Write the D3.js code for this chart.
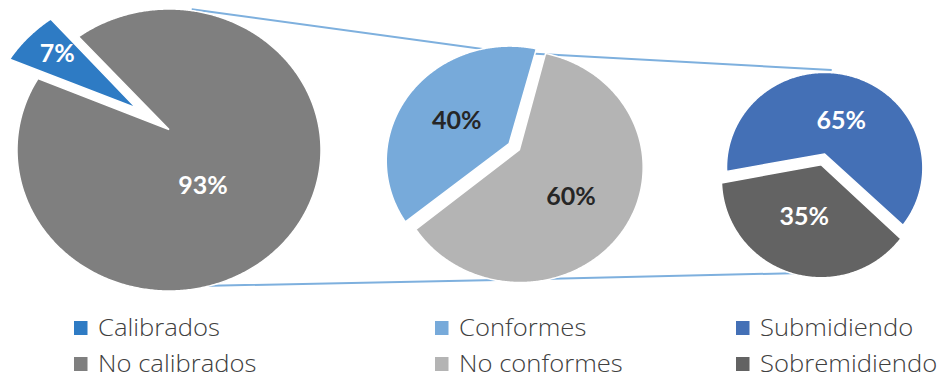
<!DOCTYPE html>
<html><head><meta charset="utf-8">
<script src="https://cdn.jsdelivr.net/npm/d3@7"></script>
<style>html,body{margin:0;padding:0;background:#fff;} svg{display:block}</style>
</head><body><svg id="c" width="944" height="378"></svg>
<script>
// ---- data ----
const pie1Categories = ["Calibrados", "No calibrados"];
const pie1Values = [7, 93];
const pie2Categories = ["Conformes", "No conformes"];
const pie2Values = [40, 60];
const pie3Categories = ["Submidiendo", "Sobremidiendo"];
const pie3Values = [65, 35];

// ---- styles / layout ----
const pie1Colors = ["#2E7BC4", "#7F7F7F"];
const pie2Colors = ["#77AADA", "#B4B4B4"];
const pie3Colors = ["#4470B6", "#636363"];
const pie1LabelColors = ["#FFFFFF", "#FFFFFF"];
const pie2LabelColors = ["#262626", "#262626"];
const pie3LabelColors = ["#FFFFFF", "#FFFFFF"];

const pies = [
  {cats: pie1Categories, vals: pie1Values, colors: pie1Colors, lc: pie1LabelColors,
   cx: 169, cy: 150, rx: 152, ry: 141, start: 293, explode: [0.275, 0],
   labelDA: [1.6, 25.2], labelR: [0.733, 0.438]},
  {cats: pie2Categories, vals: pie2Values, colors: pie2Colors, lc: pie2LabelColors,
   cx: 514.2, cy: 163.4, rx: 123.2, ry: 115, start: 230.5, explode: [0.05, 0.05],
   labelDA: [-5.9, 11.8], labelR: [0.499, 0.554]},
  {cats: pie3Categories, vals: pie3Values, colors: pie3Colors, lc: pie3LabelColors,
   cx: 823, cy: 173.4, rx: 99, ry: 96.85, start: 259.5, explode: [0.06, 0.06],
   labelDA: [8.9, 1.3], labelR: [0.42, 0.52]}
];
const K = 0.145; // perspective tilt
const rad = d => d * Math.PI / 180;

const svg = d3.select("#c");

// connector lines (drawn beneath pies)
const connectorTop = [[191.7, 9.3], [504.5, 52], [831.7, 70]];
const connectorBottom = [[200, 286], [520, 279.5], [823, 272.5]];
const lineGen = d3.line();
svg.append("g").selectAll("path").data([connectorTop, connectorBottom]).join("path")
  .attr("d", lineGen).attr("fill", "none").attr("stroke", "#7EB0DE").attr("stroke-width", 2);

function projector(p) {
  const rxn = 1 / Math.sqrt(1 - K * K), ryn = 1 / (1 - K * K), y0 = K / (1 - K * K);
  return ([X, Y]) => {
    const w = 1 - K * Y;
    const x = X / w, y = Y / w;
    return [p.cx + x * p.rx / rxn, p.cy + (y - y0) * p.ry / ryn];
  };
}

pies.forEach(p => {
  const proj = projector(p);
  const arcs = d3.pie().sort(null)
    .startAngle(rad(p.start)).endAngle(rad(p.start + 360))(p.vals);
  const g = svg.append("g");
  const line = d3.line().curve(d3.curveLinearClosed);
  arcs.forEach((a, i) => {
    const mid = (a.startAngle + a.endAngle) / 2;
    const e = p.explode[i];
    const ex = Math.sin(mid) * e, ey = -Math.cos(mid) * e;
    const pts = [[ex, ey]];
    const n = Math.max(8, Math.ceil((a.endAngle - a.startAngle) / rad(0.5)));
    for (let k = 0; k <= n; k++) {
      const t = a.startAngle + (a.endAngle - a.startAngle) * k / n;
      pts.push([ex + Math.sin(t), ey - Math.cos(t)]);
    }
    g.append("path").attr("d", line(pts.map(proj)))
      .attr("fill", p.colors[i]).attr("stroke", "#FFFFFF").attr("stroke-width", 1.5)
      .attr("stroke-linejoin", "miter");
  });
  arcs.forEach((a, i) => {
    const mid = (a.startAngle + a.endAngle) / 2;
    const e = p.explode[i];
    const la = mid + rad(p.labelDA[i]);
    const r = p.labelR[i];
    const pt = proj([Math.sin(mid) * e + Math.sin(la) * r, -Math.cos(mid) * e - Math.cos(la) * r]);
    g.append("text").attr("x", pt[0]).attr("y", pt[1]).attr("dy", "0.36em")
      .attr("text-anchor", "middle").attr("font-family", "Lato, 'Open Sans', sans-serif")
      .attr("font-weight", 700).attr("font-size", 25).attr("fill", p.lc[i])
      .text(d3.format(".0%")(a.data / d3.sum(p.vals)));
  });
});

// legend
const legendCols = [74, 435, 736];
const legendRows = [321, 357];
const lg = svg.append("g");
pies.forEach((p, c) => {
  p.cats.forEach((cat, r) => {
    const it = lg.append("g").attr("transform", `translate(${legendCols[c]},${legendRows[r]})`);
    it.append("rect").attr("width", 13.5).attr("height", 14).attr("fill", p.colors[r]);
    it.append("text").attr("transform", "translate(24,15) scale(1.09,1)")
      .attr("font-family", "'Open Sans', sans-serif")
      .attr("font-weight", 300).attr("font-size", 23.5).attr("fill", "#404040").text(cat);
  });
});
</script></body></html>
